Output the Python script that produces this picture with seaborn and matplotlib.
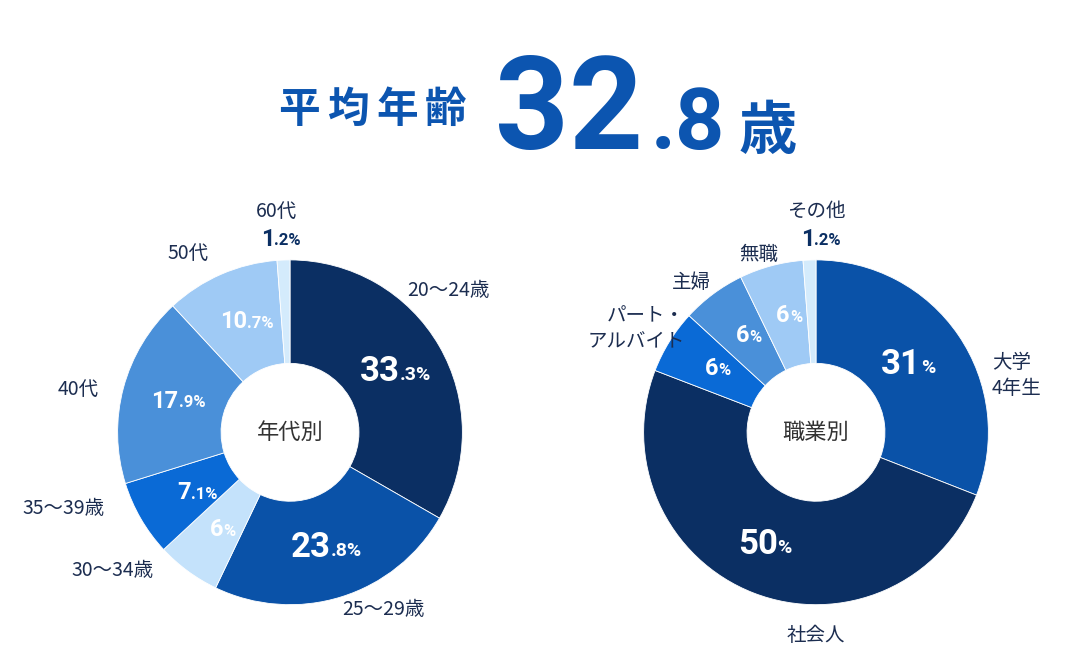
import matplotlib
matplotlib.use("Agg")
import matplotlib.pyplot as plt
import seaborn as sns
import numpy as np

sns.set_theme(style="white")
plt.rcParams['font.family'] = ['Noto Sans CJK JP', 'DejaVu Sans']

age_labels = ["20〜24歳", "25〜29歳", "30〜34歳", "35〜39歳", "40代", "50代", "60代"]
age_values = [33.3, 23.8, 6.0, 7.1, 17.9, 10.7, 1.2]
age_text = [("33", ".3%"), ("23", ".8%"), ("6", "%"), ("7", ".1%"), ("17", ".9%"), ("10", ".7%"), ("1", ".2%")]
job_labels = ["大学\n4年生", "社会人", "パート・\nアルバイト", "主婦", "無職", "その他"]
job_values = [31, 50, 6, 6, 6, 1.2]
job_text = [("31", "%"), ("50", "%"), ("6", "%"), ("6", "%"), ("6", "%"), ("1", ".2%")]
title_chars = ["平", "均", "年", "齢"]

NAVY = "#0b2f63"; BLUE = "#0a52a8"; MID = "#0a6ad6"; SKY = "#4a90d9"; LIGHT = "#9fcaf5"; PALE = "#d4ebfc"; PALE2 = "#c4e2fb"
age_colors = [NAVY, BLUE, PALE2, MID, SKY, LIGHT, PALE]
job_colors = [BLUE, NAVY, MID, SKY, LIGHT, PALE]
TXT = "#1c2d50"
TC = "#0c55b0"

fig = plt.figure(figsize=(10.8, 6.6), dpi=100)

for i, ch in enumerate(title_chars):
    fig.text((278 + i * 49) / 1080, 0.815, ch, fontsize=30, fontweight='bold', color=TC, ha='left', va='baseline')
fig.text(0.458, 0.775, "32", fontsize=93, fontweight='bold', color=TC, ha='left', va='baseline', family=['Roboto', 'DejaVu Sans'])
fig.text(0.603, 0.775, ".8", fontsize=62, fontweight='bold', color=TC, ha='left', va='baseline', family=['Roboto', 'DejaVu Sans'])
fig.text(0.684, 0.775, "歳", fontsize=42, fontweight='bold', color=TC, ha='left', va='baseline')

def donut(cx, vals, cols, texts, labels, names, center, outer_pos):
    w, h = 362/1080, 362/660
    ax = fig.add_axes([cx - w/2, 0.345 - h/2, w, h])
    wedges, _ = ax.pie(vals, colors=cols, startangle=90, counterclock=False,
                       wedgeprops=dict(width=0.6, edgecolor='white', linewidth=0.6))
    ax.set_aspect('equal')
    for i, (wd, (a, b)) in enumerate(zip(wedges, texts)):
        ang = np.deg2rad((wd.theta1 + wd.theta2) / 2)
        r = 0.7
        x, y = r*np.cos(ang), r*np.sin(ang)
        big = vals[i] > 20
        fs_a = 25 if big else 17
        fs_b = 14 if big else 12
        col = "white"
        if i in outer_pos:
            x, y = outer_pos[i]
            col = NAVY
        ax.text(x + 0.03, y, a, fontsize=fs_a, fontweight='bold', color=col, ha='right', va='center', family=['Roboto', 'DejaVu Sans'])
        ax.text(x + 0.03, y - (0.02 if big else 0.01), b, fontsize=fs_b, fontweight='bold', color=col, ha='left', va='center', family=['Roboto', 'DejaVu Sans'])
        lx, ly, ha = labels[i]
        ax.text(lx, ly, names[i], fontsize=14, color=TXT, ha=ha, va='center', linespacing=1.3)
    ax.text(0, 0, center, fontsize=16, color="#333333", ha='center', va='center')
    ax.set_xlim(-1.05, 1.05); ax.set_ylim(-1.05, 1.05)
    ax.axis('off')

age_pos = [(0.68, 0.82, 'left'), (0.3, -1.03, 'left'), (-1.27, -0.8, 'left'), (-1.55, -0.44, 'left'),
           (-1.35, 0.25, 'left'), (-0.71, 1.04, 'left'), (-0.2, 1.28, 'left')]
job_pos = [(1.02, 0.33, 'left'), (0.0, -1.18, 'center'), (-0.76, 0.6, 'right'), (-0.61, 0.87, 'right'),
           (-0.33, 1.03, 'center'), (0.0, 1.28, 'center')]

donut(290/1080, age_values, age_colors, age_text, age_pos, age_labels, "年代別", {6: (-0.12, 1.12)})
donut(816/1080, job_values, job_colors, job_text, job_pos, job_labels, "職業別", {5: (-0.04, 1.12)})

fig.savefig("out.png", dpi=100, facecolor='white')
